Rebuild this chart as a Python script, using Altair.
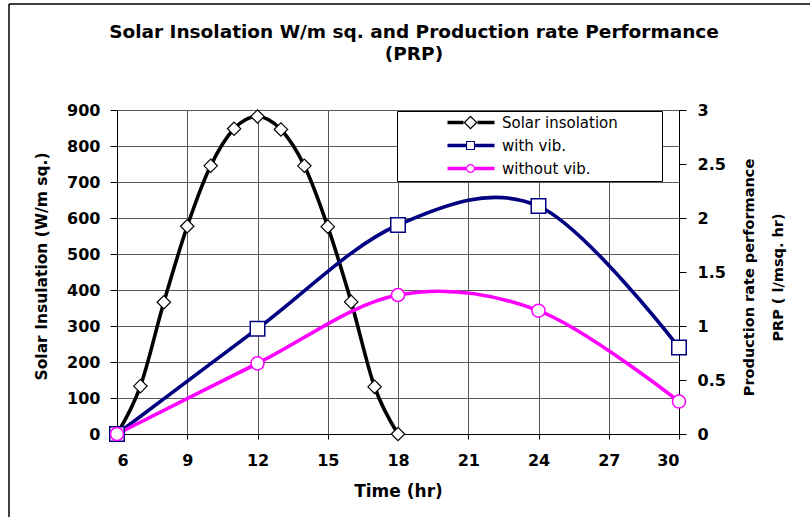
import altair as alt
import pandas as pd

# ---- data ----
solar_hours = [6, 7, 8, 9, 10, 11, 12, 13, 14, 15, 16, 17, 18]
solar_values = [0, 133, 366, 577, 745, 848, 882, 846, 745, 576, 367, 131, 0]
prod_hours = [6, 12, 18, 24, 30]
with_vib = [0, 0.975, 1.935, 2.11, 0.80]
without_vib = [0, 0.654, 1.287, 1.142, 0.30]
series_names = ["Solar insolation", "with vib.", "without vib."]
series_colors = ["#000000", "#000080", "#FF00FF"]
x_ticks = [6, 9, 12, 15, 18, 21, 24, 27, 30]
left_ticks = [0, 100, 200, 300, 400, 500, 600, 700, 800, 900]
right_ticks = [0, 0.5, 1, 1.5, 2, 2.5, 3]

solar_df = pd.DataFrame({"time": solar_hours, "value": solar_values})
with_df = pd.DataFrame({"time": prod_hours, "value": with_vib})
without_df = pd.DataFrame({"time": prod_hours, "value": without_vib})
legend_df = pd.DataFrame({"series": series_names})

FONT = "DejaVu Sans"

# legend symbols: line segment + hollow marker (custom paths)
legend_paths = [
    "M7.8,-0.35 L11,-0.35 L11,0.35 L7.8,0.35 Z "
    "M13.8,-0.35 L17.2,-0.35 L17.2,0.35 L13.8,0.35 Z "
    "M12.4,-1.4 L13.8,0 L12.4,1.4 L11,0 Z "
    "M12.4,-1.05 L11.35,0 L12.4,1.05 L13.45,0 Z "
    "M49.8,0 Z",
    "M7.8,-0.35 L11.5,-0.35 L11.5,0.35 L7.8,0.35 Z "
    "M13.3,-0.35 L17.2,-0.35 L17.2,0.35 L13.3,0.35 Z "
    "M11.5,-0.9 L13.3,-0.9 L13.3,0.9 L11.5,0.9 Z "
    "M11.72,-0.68 L11.72,0.68 L13.08,0.68 L13.08,-0.68 Z "
    "M49.8,0 Z",
    "M7.8,-0.35 L11.5,-0.35 L11.5,0.35 L7.8,0.35 Z "
    "M13.3,-0.35 L17.2,-0.35 L17.2,0.35 L13.3,0.35 Z "
    "M11.5,0 A0.9,0.9 0 1,1 13.3,0 A0.9,0.9 0 1,1 11.5,0 Z "
    "M11.75,0 A0.65,0.65 0 1,0 13.05,0 A0.65,0.65 0 1,0 11.75,0 Z "
    "M49.8,0 Z",
]

x_enc = alt.X(
    "time:Q",
    scale=alt.Scale(domain=[6, 30], nice=False, zero=False),
    axis=alt.Axis(
        values=x_ticks, format="d", title="Time (hr)", grid=True, tickSize=5,
        labelPadding=13, titleX=281, titleY=57, titleBaseline="middle",
        titleAlign="center", titleFontSize=17,
    ),
)

y_left = alt.Y(
    "value:Q",
    scale=alt.Scale(domain=[0, 900], nice=False),
    axis=alt.Axis(
        values=left_ticks, format="d", title="Solar Insulation (W/m sq.)",
        grid=True, tickSize=7, labelPadding=10, titleX=-75.5, titleY=156,
        titleAngle=270, titleAlign="center", titleBaseline="middle",
        titleFontSize=15.5,
    ),
)

y_right = alt.Y(
    "value:Q",
    scale=alt.Scale(domain=[0, 3], nice=False),
    axis=alt.Axis(
        orient="right", values=right_ticks, format="~g",
        title=["Production rate performance", "PRP ( l/msq. hr)"],
        grid=False, tickSize=7, labelPadding=11, titleX=70, titleY=167,
        titleAngle=270, titleAlign="center", titleBaseline="middle",
        titleLineHeight=29, titleFontSize=14.5,
    ),
)

solar_line = alt.Chart(solar_df).mark_line(
    color="black", strokeWidth=3.6, interpolate="cardinal"
).encode(x=x_enc, y=y_left)
solar_pts = alt.Chart(solar_df).mark_point(
    shape="diamond", size=180, filled=True, fill="white", stroke="black",
    strokeWidth=1.2, opacity=1,
).encode(x=x_enc, y=y_left)
left = alt.layer(solar_line, solar_pts)

with_line = alt.Chart(with_df).mark_line(
    color="#000080", strokeWidth=3.6, interpolate="cardinal"
).encode(x=x_enc, y=y_right)
without_line = alt.Chart(without_df).mark_line(
    color="#FF00FF", strokeWidth=3.6, interpolate="cardinal"
).encode(x=x_enc, y=y_right)
with_pts = alt.Chart(with_df).mark_point(
    shape="square", size=210, filled=True, fill="white", stroke="#000080",
    strokeWidth=1.5, opacity=1,
).encode(x=x_enc, y=y_right)
without_pts = alt.Chart(without_df).mark_point(
    shape="circle", size=170, filled=True, fill="white", stroke="#FF00FF",
    strokeWidth=1.5, opacity=1,
).encode(x=x_enc, y=y_right)
right = alt.layer(with_line, without_line, with_pts, without_pts)

legend_kw = dict(title=None, orient="none", legendX=280, legendY=1)
legend_layer = alt.Chart(legend_df).transform_filter("false").mark_point(
    filled=True, opacity=1
).encode(
    color=alt.Color("series:N", scale=alt.Scale(domain=series_names, range=series_colors),
                    legend=alt.Legend(**legend_kw)),
    shape=alt.Shape("series:N", scale=alt.Scale(domain=series_names, range=legend_paths),
                    legend=alt.Legend(**legend_kw)),
)

frame_data = alt.Data(values=[{"k": 1}])
frame_v = alt.Chart(frame_data).mark_rule(color="black", strokeWidth=1.5).encode(
    x=alt.value(-108), y=alt.value(-106), y2=alt.value(420)
)
frame_h = alt.Chart(frame_data).mark_rule(color="black", strokeWidth=1.5).encode(
    y=alt.value(-106), x=alt.value(-108), x2=alt.value(700)
)

chart = alt.layer(left, right, legend_layer, frame_v, frame_h).resolve_scale(
    y="independent"
).properties(
    width=562,
    height=324,
    padding={"left": 117, "top": 110, "right": 131, "bottom": 83},
    autosize=alt.AutoSizeParams(type="none"),
    background="white",
    title=alt.TitleParams(
        text=["Solar Insolation W/m sq. and Production rate Performance", "(PRP)"],
        font=FONT, fontSize=18.5, fontWeight="bold", color="black",
        anchor="middle", dx=16, dy=100, offset=40, lineHeight=22,
    ),
).configure_view(stroke=None).configure_axis(
    labelFont=FONT, labelFontWeight="bold", labelFontSize=16, labelColor="black",
    titleFont=FONT, titleFontWeight="bold", titleColor="black",
    domainColor="black", domainWidth=1, tickColor="black", tickWidth=1,
    gridColor="#585858", gridWidth=1, gridOpacity=1,
).configure_legend(
    padding=4, strokeColor="black", fillColor="white", strokeWidth=1,
    labelFont=FONT, labelFontSize=15, labelColor="black", labelOffset=86,
    rowPadding=7, symbolSize=100, symbolStrokeWidth=0, symbolOpacity=1,
)

chart.save("out.html", embed_options={"renderer": "svg", "actions": False})
